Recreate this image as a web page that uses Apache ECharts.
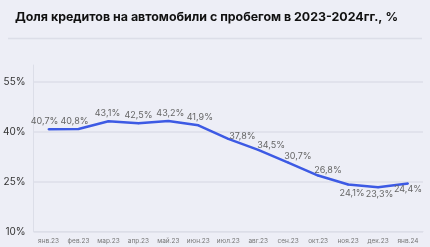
<!DOCTYPE html>
<html><head><meta charset="utf-8">
<script src="https://cdn.jsdelivr.net/npm/echarts@6/dist/echarts.min.js"></script>
<style>html,body{margin:0;padding:0;background:#EDEEF6;}#c{width:430px;height:247px;}</style>
</head><body><div id="c"></div>
<script>
var categories = ['янв.23','фев.23','мар.23','апр.23','май.23','июн.23','июл.23','авг.23','сен.23','окт.23','ноя.23','дек.23','янв.24'];
var shareValues = [40.7, 40.8, 43.1, 42.5, 43.2, 41.9, 37.8, 34.5, 30.7, 26.8, 24.1, 23.3, 24.4];
var yTicks = [10, 25, 40, 55];

// label placement per point (style only)
var labelPlace = [
  {position: 'top', distance: 2, offset: [-4, 0]},
  {position: 'top', distance: 2, offset: [-4, 0]},
  {position: 'top', distance: 2, offset: [-1, 0]},
  {position: 'top', distance: 2, offset: [0, 0]},
  {position: 'top', distance: 2, offset: [2, 0]},
  {position: 'top', distance: 2, offset: [1.5, 0]},
  {position: 'right', distance: 0, offset: [0, -3]},
  {position: 'right', distance: 0, offset: [-2, -5]},
  {position: 'right', distance: 0, offset: [-5, -6]},
  {position: 'right', distance: 0, offset: [-5, -5]},
  {position: 'bottom', distance: 3, offset: [4, 0]},
  {position: 'bottom', distance: 2, offset: [1.5, 0]},
  {position: 'bottom', distance: 0, offset: [0, 0]}
];

var chart = echarts.init(document.getElementById('c'), null, {renderer: 'canvas'});
var data = shareValues.map(function (v, i) {
  return {value: v, label: labelPlace[i]};
});
chart.setOption({
  backgroundColor: '#EDEEF6',
  animation: false,
  title: {
    text: 'Доля кредитов на автомобили с пробегом в 2023-2024гг., %',
    left: 10, top: 6,
    textStyle: {fontFamily: 'Inter', fontWeight: 'bold', fontSize: 12.4, color: '#111'}
  },
  graphic: [{
    type: 'line', shape: {x1: 8, y1: 38.5, x2: 422, y2: 38.5},
    style: {stroke: '#DCDEE8', lineWidth: 1.5}
  }],
  grid: {left: 30, right: 7, top: 65, bottom: 15.5},
  xAxis: {
    type: 'category', data: categories, boundaryGap: true,
    axisLine: {show: true, lineStyle: {color: '#DCDEE8', width: 1}},
    axisTick: {show: false},
    axisLabel: {interval: 0, fontFamily: 'Inter', fontSize: 6.5, color: '#777', margin: 6}
  },
  yAxis: {
    type: 'value', min: 10, max: 60, interval: 15,
    axisLine: {show: true, lineStyle: {color: '#DCDEE8', width: 1}},
    axisTick: {show: false},
    axisLabel: {
      fontFamily: 'Inter', fontSize: 10, color: '#333', margin: 8,
      formatter: function (v) { return yTicks.indexOf(v) >= 0 ? v + '%' : ''; }
    },
    splitLine: {show: true, lineStyle: {color: ['#DCDEE8', '#DCDEE8', '#DCDEE8', '#DCDEE8', 'rgba(0,0,0,0)'], width: 1.5}}
  },
  series: [{
    type: 'line', data: data,
    symbol: 'circle', symbolSize: 2, showSymbol: true,
    itemStyle: {color: '#3D5AE4'},
    lineStyle: {color: '#3D5AE4', width: 2.5},
    label: {
      show: true,
      fontFamily: 'Inter', fontSize: 9, color: '#666',
      formatter: function (p) { return String(p.value).replace('.', ',') + '%'; }
    }
  }]
});
</script></body></html>
